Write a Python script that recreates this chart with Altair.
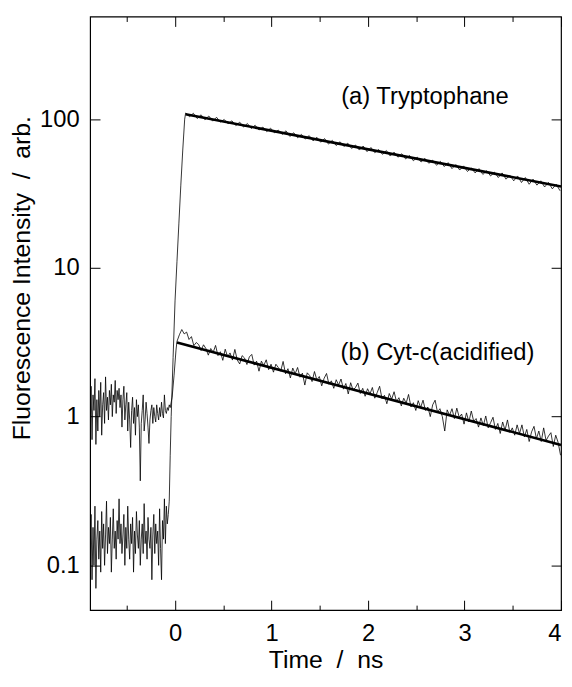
import altair as alt
import numpy as np
import pandas as pd

FONT = "Liberation Sans"

# ---------------- (a) Tryptophane ----------------
trp_pre_start, trp_pre_step = -0.88, 0.01
trp_pre = [0.12, 0.22, 0.08, 0.18, 0.10, 0.25, 0.07, 0.15, 0.20, 0.11,
           0.17, 0.09, 0.23, 0.13, 0.19, 0.10, 0.16, 0.27, 0.12, 0.18,
           0.14, 0.21, 0.09, 0.15, 0.24, 0.13, 0.17, 0.11, 0.20, 0.15,
           0.28, 0.14, 0.19, 0.12, 0.16, 0.22, 0.10, 0.18, 0.13, 0.25,
           0.15, 0.11, 0.19, 0.14, 0.21, 0.09, 0.17, 0.12, 0.23, 0.16,
           0.13, 0.20, 0.10, 0.15, 0.19, 0.12, 0.26, 0.14, 0.17, 0.11,
           0.21, 0.15, 0.13, 0.18, 0.08, 0.16, 0.22, 0.12, 0.19, 0.14,
           0.17, 0.10, 0.24, 0.13, 0.08, 0.20, 0.15, 0.28, 0.14, 0.25,
           0.19, 0.22, 0.27]
trp_rise_t = [-0.05, -0.04, -0.02, 0.00, 0.02, 0.04, 0.06, 0.08, 0.10]
trp_rise = [0.55, 1.0, 2.5, 6.0, 11.0, 20.0, 36.0, 62.0, 100.0]
trp_post_start, trp_post_step = 0.11, 0.04
trp_post = [110, 104, 109.5, 101, 107, 99, 105, 97, 103, 95.5,
            99.5, 93, 97.5, 90.5, 95.5, 88.5, 93.5, 86.5, 91, 84.5,
            88.5, 82.5, 87, 81, 84.5, 79, 83.5, 76.5, 81, 75,
            79, 73.5, 77.5, 71.5, 75.5, 70, 74, 68, 72, 66.5,
            70.5, 65.5, 69, 63.5, 67, 62, 66, 60.5, 64.5, 59.5,
            62.5, 58, 61.5, 56.5, 60, 55.5, 58.5, 54, 57, 52.5,
            55.5, 51.5, 54.5, 50.5, 53, 49, 52, 48, 51, 46.5,
            49.5, 45.5, 48.5, 44.5, 47, 43.5, 46.5, 42.5, 45, 41.5,
            44, 40.5, 43.5, 39.5, 42, 38.5, 41.5, 37.5, 40.5, 36.5,
            39.5, 36, 38.5, 35, 37.5, 34, 36.5, 33]

# ---------------- (b) Cyt-c (acidified) ----------------
cyt_pre_start, cyt_pre_step = -0.88, 0.01
cyt_pre = [0.9, 1.6, 0.7, 1.4, 1.1, 1.8, 0.65, 1.3, 0.8, 1.5,
           1.0, 1.7, 0.75, 1.2, 1.45, 0.9, 1.85, 1.1, 1.35, 0.95,
           1.5, 1.2, 1.65, 1.0, 1.4, 1.25, 1.75, 1.05, 1.5, 1.3,
           1.55, 1.15, 1.4, 0.85, 1.3, 1.6, 0.95, 1.2, 1.45, 0.8,
           1.25, 0.95, 0.62, 1.1, 1.35, 0.9, 1.15, 0.75, 1.3, 1.0,
           1.2, 0.85, 0.37, 0.9, 1.1, 1.4, 0.8, 0.95, 1.25, 1.05,
           0.85, 0.66, 0.95, 1.1, 1.2, 0.9, 1.15, 1.0, 0.92, 1.2,
           1.05, 0.95, 1.15, 1.0, 1.25, 1.05, 0.98, 1.4, 1.1, 1.05,
           1.15, 1.1, 1.2]
cyt_rise_t = [-0.05, -0.03, -0.01, 0.01]
cyt_rise = [1.15, 1.35, 1.9, 2.8]
cyt_post_start, cyt_post_step = 0.02, 0.025
cyt_post = [3.2, 3.55, 3.85, 3.6, 3.7, 3.3, 3.45, 3.0, 3.15, 3.05,
            2.78, 3.04, 2.87, 2.59, 2.87, 2.70, 3.01, 2.57, 2.73, 2.39,
            2.84, 2.52, 2.68, 2.40, 2.83, 2.40, 2.26, 2.57, 2.48, 2.24,
            2.52, 2.62, 2.22, 2.36, 2.02, 2.36, 2.21, 2.41, 2.07, 2.25,
            1.99, 2.25, 2.14, 2.02, 2.35, 1.94, 2.10, 1.82, 2.12, 1.94,
            2.14, 1.84, 1.96, 1.63, 1.97, 1.89, 1.72, 2.01, 1.76, 1.86,
            1.61, 1.81, 1.95, 1.65, 1.74, 1.55, 1.77, 1.63, 1.79, 1.53,
            1.67, 1.42, 1.69, 1.51, 1.57, 1.68, 1.43, 1.55, 1.37, 1.54,
            1.42, 1.57, 1.33, 1.45, 1.60, 1.32, 1.39, 1.22, 1.43, 1.31,
            1.47, 1.26, 1.34, 1.18, 1.33, 1.23, 1.41, 1.16, 1.24, 1.10,
            1.28, 1.15, 1.29, 1.10, 1.16, 1.00, 1.20, 1.29, 1.07, 1.13,
            1.00, 0.80, 1.11, 1.02, 1.13, 0.97, 1.14, 0.99, 1.04, 0.89,
            1.06, 0.92, 1.09, 0.93, 0.97, 0.85, 0.98, 0.87, 1.01, 0.84,
            0.91, 0.99, 0.82, 0.90, 0.77, 0.92, 0.81, 0.95, 0.78, 0.84,
            0.75, 0.88, 0.77, 0.88, 0.73, 0.82, 0.68, 0.79, 0.86, 0.71,
            0.80, 0.68, 0.84, 0.69, 0.74, 0.78, 0.63, 0.75, 0.67, 0.55]

# ---------------- single-exponential fits (straight on log axis) ----------------
fit_series = ["a", "a", "b", "b"]
fit_t = [0.11, 4.0, 0.02, 4.0]
fit_v = [108.0, 35.3, 3.15, 0.645]

# ---------------- annotations ----------------
label_text = ["(a) Tryptophane", "(b) Cyt-c(acidified)"]
label_t = [2.59, 2.72]
label_v = [140.0, 2.68]

x_ticks = [-0.5, 0, 0.5, 1, 1.5, 2, 2.5, 3, 3.5, 4]
y_ticks = [0.1, 1, 10, 100]


def grid(start, step, n):
    return list(np.round(start + step * np.arange(n), 4))


trp_t = grid(trp_pre_start, trp_pre_step, len(trp_pre)) + trp_rise_t + grid(trp_post_start, trp_post_step, len(trp_post))
trp_v = trp_pre + trp_rise + trp_post
cyt_t = grid(cyt_pre_start, cyt_pre_step, len(cyt_pre)) + cyt_rise_t + grid(cyt_post_start, cyt_post_step, len(cyt_post))
cyt_v = cyt_pre + cyt_rise + cyt_post

traces = pd.DataFrame({
    "series": ["a"] * len(trp_t) + ["b"] * len(cyt_t),
    "t": trp_t + cyt_t,
    "v": trp_v + cyt_v,
})
fits = pd.DataFrame({"series": fit_series, "t": fit_t, "v": fit_v})
labels = pd.DataFrame({"text": label_text, "t": label_t, "v": label_v})

xs = alt.Scale(domain=[-0.88, 4.0], nice=False, zero=False)
ys = alt.Scale(type="log", domain=[0.05, 490], nice=False)

tick_expr = {"expr": "datum.value % 1 === 0 ? -10 : -5"}

x_bottom = alt.Axis(orient="bottom", values=x_ticks, format="~g",
                    labelExpr="datum.value % 1 === 0 ? datum.label : ''",
                    tickSize=tick_expr, labelPadding=22, domain=False, grid=False,
                    titleY=50, titleBaseline="middle")
y_left = alt.Axis(orient="left", values=y_ticks, format="~g", tickSize={"expr": "-10"}, labelPadding=21,
                  domain=False, grid=False, titleAngle=-90, titleX=-69, titleY=264,
                  titleAlign="center", titleBaseline="middle", titleAnchor="middle")
x_top = alt.Axis(orient="top", values=x_ticks, labels=False, tickSize=tick_expr, domain=False, grid=False, title=None)
y_right = alt.Axis(orient="right", values=y_ticks, labels=False, tickSize={"expr": "-10"}, domain=False, grid=False, title=None)

data_layer = alt.Chart(traces).mark_line(color="black", strokeWidth=0.8, clip=True).encode(
    x=alt.X("t:Q", scale=xs, axis=x_bottom, title="Time\u00a0\u00a0/\u00a0\u00a0ns"),
    y=alt.Y("v:Q", scale=ys, axis=y_left, title="Fluorescence Intensity\u00a0\u00a0/\u00a0\u00a0arb."),
    detail="series:N",
)

fit_layer = alt.Chart(fits).mark_line(color="black", strokeWidth=2.6, clip=True).encode(
    x=alt.X("t:Q", scale=xs, axis=x_top),
    y=alt.Y("v:Q", scale=ys, axis=y_right),
    detail="series:N",
)

text_layer = alt.Chart(labels).mark_text(font=FONT, fontSize=24, color="black", align="center", baseline="middle").encode(
    x=alt.X("t:Q", scale=xs, axis=None),
    y=alt.Y("v:Q", scale=ys, axis=None),
    text="text:N",
)

chart = alt.layer(data_layer, fit_layer, text_layer).resolve_axis(
    x="independent", y="independent"
).properties(
    width=476, height=600,
    padding={"top": 4, "left": 1, "right": 2, "bottom": 0},
    background="white",
).configure_view(
    stroke="black", strokeWidth=1.2
).configure_axis(
    labelFont=FONT, labelFontSize=24, labelColor="black",
    titleFont=FONT, titleFontSize=25, titleColor="black", titleFontWeight="normal",
    tickColor="black", tickWidth=1,
)

chart.save("out.html", embed_options={"renderer": "svg", "actions": False})
